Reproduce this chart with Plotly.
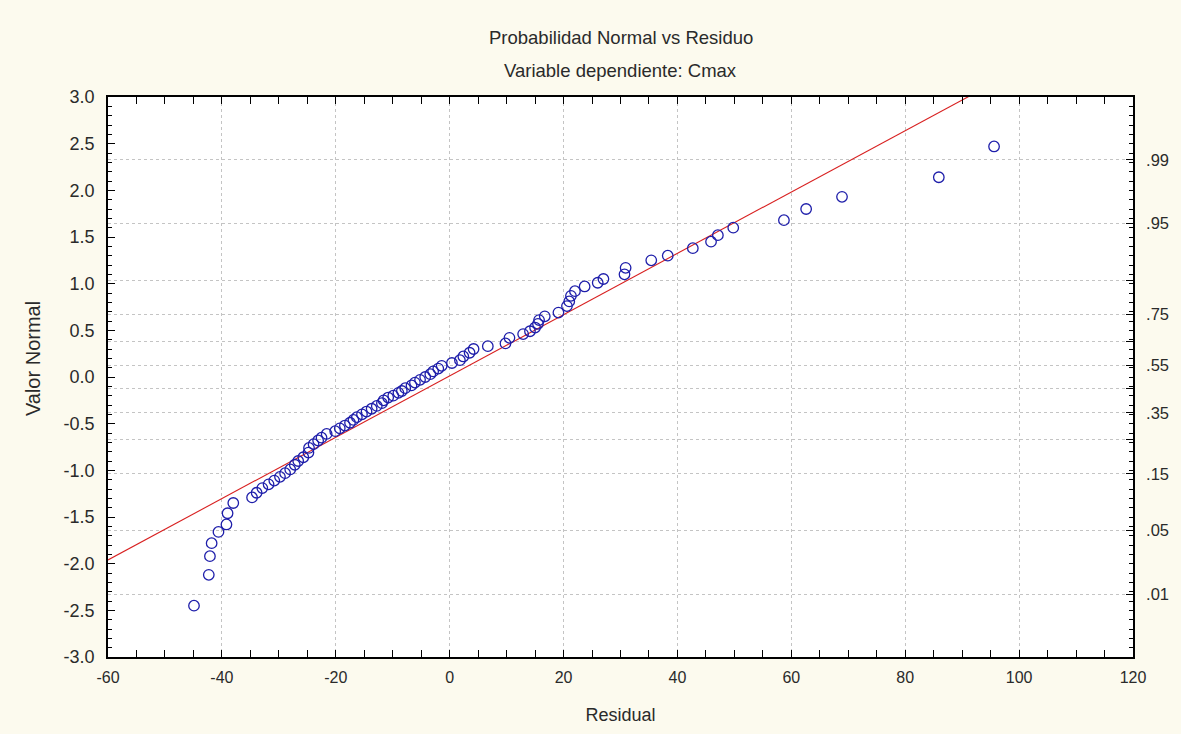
import plotly.graph_objects as go
from statistics import NormalDist

# ---------------- data ----------------
residual = [
    -44.9, -42.3, -42.1, -41.8, -40.6, -39.2, -39.0, -38.0,
    -34.7, -33.9, -32.9, -31.8, -30.8, -29.8, -28.9, -28.0, -27.2, -26.6,
    -25.7, -24.8, -24.7, -23.9, -23.1, -22.5, -21.6, -20.1, -19.3, -18.4, -17.5,
    -16.9, -16.3, -15.4, -14.6, -13.7, -12.8, -11.9, -11.6, -10.8, -9.9,
    -9.0, -8.4, -7.8, -6.7, -6.1, -5.2, -4.3, -3.4, -2.9, -2.0, -1.4,
    0.4, 1.8, 2.4, 3.5, 4.2, 6.7, 9.8, 10.5,
    12.9, 14.1, 15.0, 15.5, 15.7, 16.7, 19.1, 20.6, 21.0, 21.3, 22.0, 23.7, 26.0, 27.0,
    30.7, 30.9, 35.4, 38.3, 42.7, 45.9, 47.1, 49.8, 58.7, 62.6, 68.9, 85.9, 95.6,
]
normal_value = [
    -2.45, -2.12, -1.92, -1.78, -1.66, -1.58, -1.46, -1.35,
    -1.29, -1.24, -1.19, -1.15, -1.11, -1.07, -1.03, -0.99, -0.94, -0.90,
    -0.86, -0.81, -0.76, -0.72, -0.68, -0.65, -0.61, -0.58, -0.55, -0.52, -0.49,
    -0.46, -0.43, -0.40, -0.37, -0.34, -0.31, -0.28, -0.25, -0.22, -0.20,
    -0.17, -0.15, -0.12, -0.09, -0.06, -0.03, 0.00, 0.03, 0.06, 0.09, 0.12,
    0.15, 0.18, 0.22, 0.26, 0.30, 0.33, 0.36, 0.42,
    0.46, 0.49, 0.53, 0.57, 0.61, 0.65, 0.69, 0.76, 0.81, 0.87, 0.92, 0.97, 1.01, 1.05,
    1.10, 1.17, 1.25, 1.30, 1.38, 1.45, 1.52, 1.60, 1.68, 1.80, 1.93, 2.14, 2.47,
]

fit_intercept = 0.011
fit_slope = 0.03285
fit_x = [-60, 120]

x_ticks = [-60, -40, -20, 0, 20, 40, 60, 80, 100, 120]
y_ticks = [-3.0, -2.5, -2.0, -1.5, -1.0, -0.5, 0.0, 0.5, 1.0, 1.5, 2.0, 2.5, 3.0]
prob_values = [0.01, 0.05, 0.15, 0.25, 0.35, 0.45, 0.55, 0.65, 0.75, 0.85, 0.95, 0.99]
prob_labels = [".01", ".05", ".15", "", ".35", "", ".55", "", ".75", "", ".95", ".99"]

title_1 = "Probabilidad Normal vs Residuo"
title_2 = "Variable dependiente: Cmax"
x_title = "Residual"
y_title = "Valor Normal"

# ---------------- figure ----------------
nd = NormalDist()
prob_z = [nd.inv_cdf(p) for p in prob_values]
fit_y = [fit_intercept + fit_slope * v for v in fit_x]

FONT = "Liberation Sans, Arial, sans-serif"
BG = "#FCFAEE"
TXT = "#2a2a2a"
GRID = "#C4C4C4"

fig = go.Figure()
fig.add_trace(go.Scatter(
    x=fit_x, y=fit_y, mode="lines",
    line=dict(color="#D82020", width=1.1),
    hoverinfo="skip", showlegend=False,
))
fig.add_trace(go.Scatter(
    x=residual, y=normal_value, mode="markers",
    marker=dict(symbol="circle-open", size=10.5, color="#1E1EAA",
                line=dict(width=1.3, color="#1E1EAA")),
    showlegend=False,
))
# invisible trace to activate the right (probability) axis
fig.add_trace(go.Scatter(x=[None], y=[None], yaxis="y2", showlegend=False, hoverinfo="skip"))

fig.update_layout(
    width=1181, height=734,
    margin=dict(l=108, r=48, t=97, b=75),
    paper_bgcolor=BG, plot_bgcolor="white",
    showlegend=False,
    xaxis=dict(
        range=[-60, 120], tickmode="array", tickvals=x_ticks,
        ticktext=[str(v) for v in x_ticks],
        ticks="inside", ticklen=7, tickwidth=1, tickcolor="black",
        showline=True, linecolor="black", linewidth=1.5, mirror="allticks",
        showgrid=True, gridcolor=GRID, griddash="dot", gridwidth=1,
        zeroline=False,
        minor=dict(tickmode="linear", tick0=-60, dtick=5, ticks="inside",
                   ticklen=4, tickcolor="black", showgrid=False),
        tickfont=dict(family=FONT, size=16, color=TXT),
        title=dict(text=x_title, font=dict(family=FONT, size=18, color=TXT), standoff=23),
        ticklabelstandoff=5,
    ),
    yaxis=dict(
        range=[-3, 3], tickmode="array", tickvals=y_ticks,
        ticktext=[f"{v:.1f}" for v in y_ticks],
        ticks="inside", ticklen=7, tickcolor="black",
        showline=True, linecolor="black", linewidth=1.5, mirror=False,
        showgrid=False, zeroline=False,
        minor=dict(tickmode="linear", tick0=-3, dtick=0.1, ticks="inside",
                   ticklen=4, tickcolor="black", showgrid=False),
        tickfont=dict(family=FONT, size=18, color=TXT),
        ticklabelstandoff=8,
    ),
    yaxis2=dict(
        range=[-3, 3], overlaying="y", side="right", anchor="x",
        tickmode="array", tickvals=prob_z, ticktext=prob_labels,
        ticks="inside", ticklen=7, tickcolor="black",
        showline=True, linecolor="black", linewidth=1.5,
        showgrid=True, gridcolor=GRID, griddash="dot", gridwidth=1,
        zeroline=False,
        minor=dict(tickmode="linear", tick0=-3, dtick=0.1, ticks="inside",
                   ticklen=4, tickcolor="black", showgrid=False),
        tickfont=dict(family=FONT, size=16.5, color=TXT),
        ticklabelstandoff=8,
    ),
    annotations=[
        dict(text=title_1, x=0.5, y=1 + (97 - 37) / 562, xref="paper", yref="paper",
             showarrow=False, xanchor="center", yanchor="middle",
             font=dict(family=FONT, size=18.5, color=TXT)),
        dict(text=title_2, x=0.5, y=1 + (97 - 70) / 562, xref="paper", yref="paper",
             showarrow=False, xanchor="center", yanchor="middle",
             font=dict(family=FONT, size=18.5, color=TXT)),
        dict(text=y_title, x=(33 - 108) / 1025, y=(659 - 360) / 562,
             xref="paper", yref="paper", textangle=-90,
             showarrow=False, xanchor="center", yanchor="middle",
             font=dict(family=FONT, size=20, color=TXT)),
    ],
)

fig.write_html("out.html")
